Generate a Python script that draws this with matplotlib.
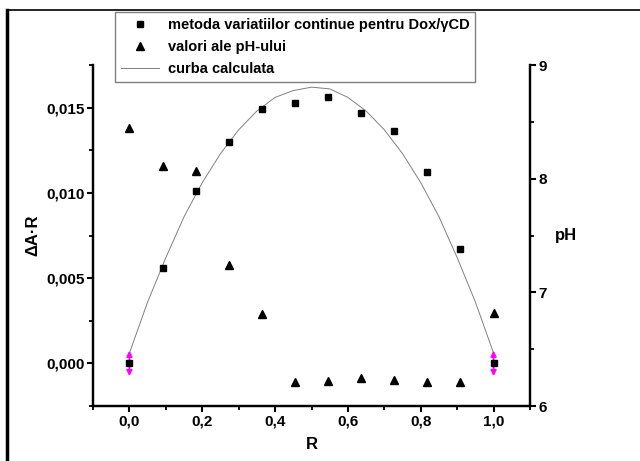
import numpy as np
import matplotlib
matplotlib.use('Agg')
import matplotlib.pyplot as plt
from matplotlib.ticker import FuncFormatter, MultipleLocator
from matplotlib.lines import Line2D

# data
r_vals = [0.0, 0.0909, 0.1818, 0.2727, 0.3636, 0.4545, 0.5455, 0.6364,
          0.7273, 0.8182, 0.9091, 1.0]
dA_R = [0.0, 0.0056, 0.0101, 0.0130, 0.0149, 0.0153, 0.0156, 0.0147,
        0.0136, 0.0112, 0.0067, 0.0]
ph_vals = [8.45, 8.11, 8.07, 7.24, 6.81, 6.21, 6.22, 6.25, 6.23, 6.21,
           6.21, 6.82]

# calculated curve
curve_r = [0.0, 0.05, 0.10, 0.15, 0.20, 0.25, 0.30, 0.35, 0.40, 0.45, 0.50,
           0.55, 0.60, 0.65, 0.70, 0.75, 0.80, 0.85, 0.90, 0.95, 1.0]
curve_y = [0.0006, 0.0036, 0.0062, 0.0086, 0.0106, 0.0123, 0.0137, 0.0148,
           0.0156, 0.0160, 0.0162, 0.0161, 0.0156, 0.0148, 0.0137, 0.0123,
           0.0106, 0.0086, 0.0062, 0.0036, 0.0006]

# error marks at the end points
err_r = [0.0, 1.0]
err_y = [0.0, 0.0]
err_half = 0.00075

plt.rcParams['font.family'] = ['Liberation Sans', 'DejaVu Sans']
plt.rcParams['font.weight'] = 'bold'

fig = plt.figure(figsize=(6.4, 4.61), dpi=100)
ax = fig.add_axes([93 / 640, 1 - 406 / 461, (530 - 93) / 640, (406 - 65) / 461])
ax2 = ax.twinx()

comma = FuncFormatter(lambda v, pos: ('%.3f' % v).replace('.', ','))
comma1 = FuncFormatter(lambda v, pos: ('%.1f' % v).replace('.', ','))

# curve and markers
line, = ax.plot(curve_r, curve_y, color='#808080', lw=0.7, zorder=2)
for xr, yr in zip(err_r, err_y):
    ax.annotate('', xy=(xr, yr + err_half), xytext=(xr, yr - err_half),
                arrowprops=dict(arrowstyle='<|-|>', color='magenta', lw=1.3,
                                mutation_scale=8, shrinkA=0, shrinkB=0),
                zorder=3)
sq, = ax.plot(r_vals, dA_R, 's', color='black', ms=5, zorder=4)
tri, = ax2.plot(r_vals, ph_vals, '^', color='black', ms=5.5)

ax.set_xlim(-0.1, 1.1)
ax.set_ylim(-0.0025, 0.0175)
ax2.set_ylim(6, 9)

ax.xaxis.set_major_locator(MultipleLocator(0.2))
ax.xaxis.set_minor_locator(MultipleLocator(0.1))
ax.yaxis.set_major_locator(MultipleLocator(0.005))
ax.yaxis.set_minor_locator(MultipleLocator(0.0025))
ax2.yaxis.set_major_locator(MultipleLocator(1))
ax2.yaxis.set_minor_locator(MultipleLocator(0.5))
ax.xaxis.set_major_formatter(comma1)
ax.yaxis.set_major_formatter(comma)

for a in (ax, ax2):
    a.spines['top'].set_visible(False)
    for s in ('left', 'right', 'bottom'):
        a.spines[s].set_linewidth(1.6)
    a.tick_params(which='major', direction='out', length=4, width=1.5,
                  labelsize=11, pad=2)
    a.tick_params(which='minor', direction='out', length=3, width=1.3)
ax.tick_params(axis='y', right=False)
ax2.tick_params(axis='y', left=False)

ax.set_xlabel('R', fontsize=12, fontweight='bold', labelpad=6)
ax.set_ylabel('ΔA·R', fontsize=12, fontweight='bold', labelpad=4)
ax2.set_ylabel('pH', fontsize=12, fontweight='bold', rotation=0,
               labelpad=14, va='center')

leg = fig.legend([sq, tri, line],
                 ['metoda variatiilor continue pentru Dox/γCD',
                  'valori ale pH-ului', 'curba calculata'],
                 loc='upper left', bbox_to_anchor=(115 / 640, 1 - 12 / 461),
                 borderaxespad=0,
                 prop={'size': 10.5, 'weight': 'bold'}, fancybox=False,
                 framealpha=1, edgecolor='#808080', borderpad=0.4,
                 labelspacing=0.55, handlelength=2.6, handletextpad=0.6)
leg.get_frame().set_linewidth(1.0)
leg.set_zorder(10)

# page border lines
fig.add_artist(Line2D([7 / 640, 1.0], [1 - 10 / 461, 1 - 10 / 461],
                      transform=fig.transFigure, color='black', lw=1.2))
fig.add_artist(Line2D([7 / 640, 7 / 640], [0, 1 - 10 / 461],
                      transform=fig.transFigure, color='black', lw=2.5))

fig.savefig('out.png', dpi=100)
